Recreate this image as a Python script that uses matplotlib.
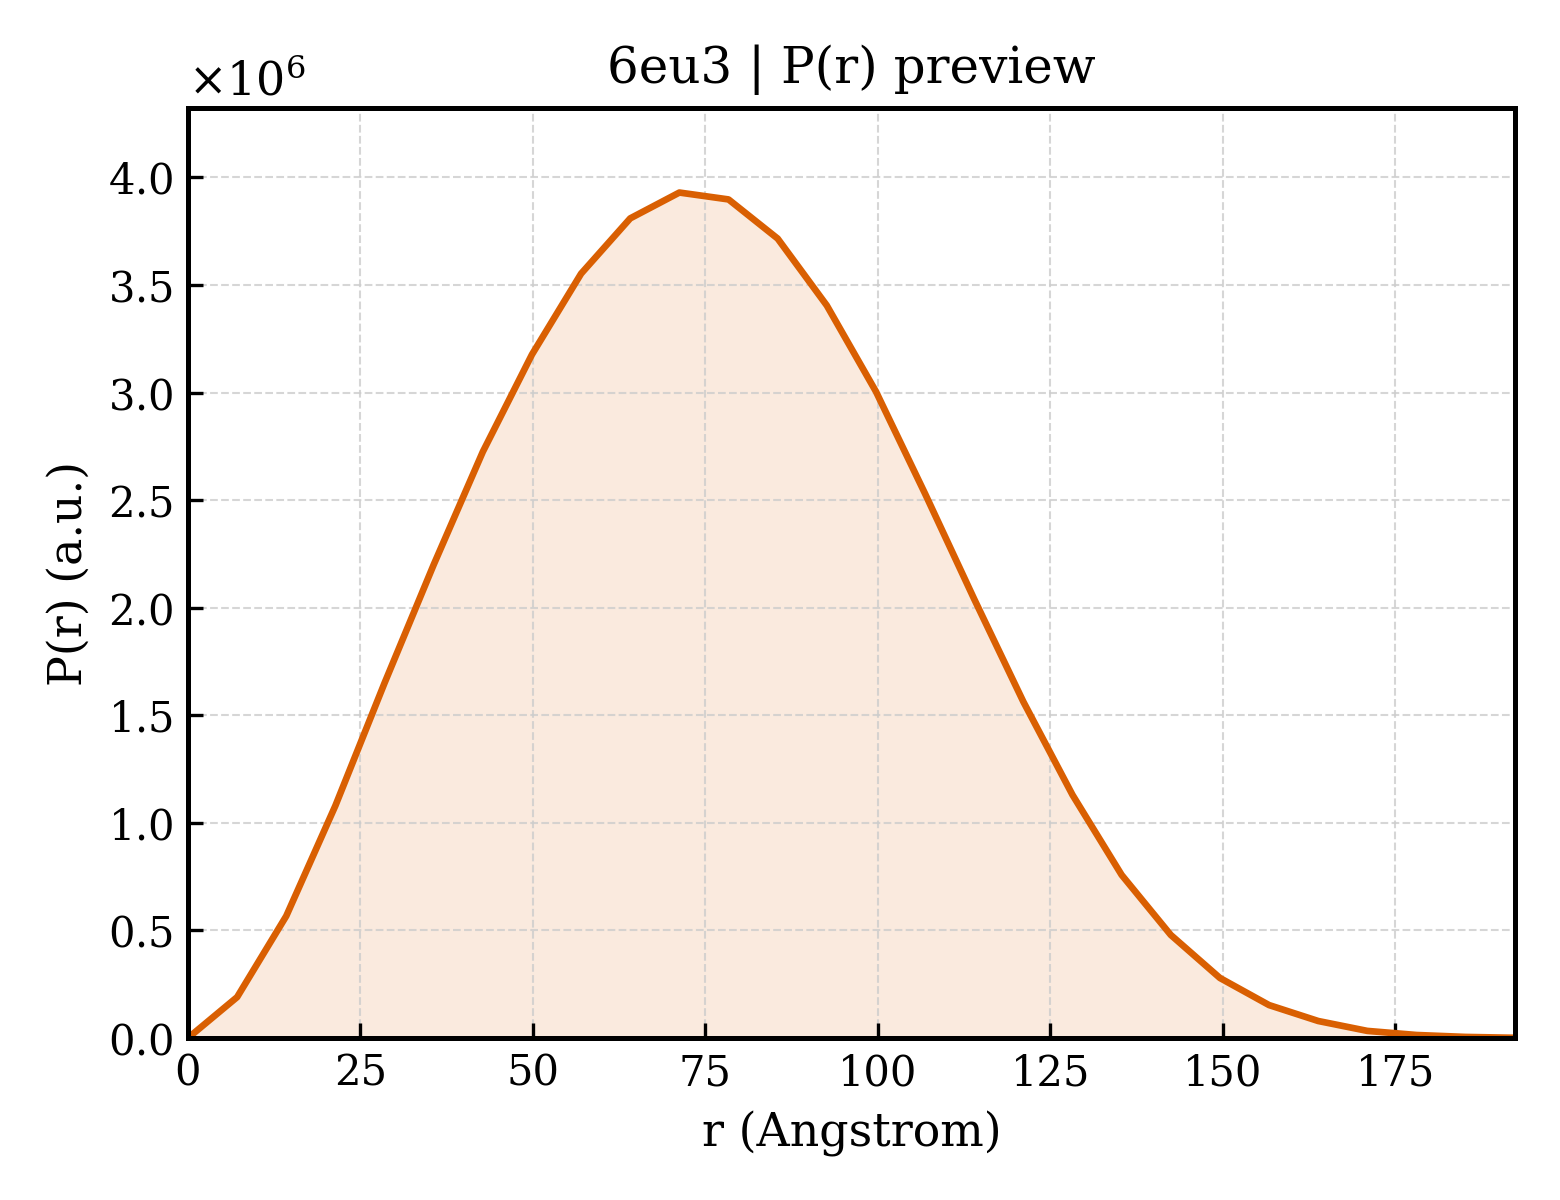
import numpy as np
import matplotlib
matplotlib.use("Agg")
import matplotlib.pyplot as plt

r_max = 192.3
n_points = 28
r = np.linspace(0, r_max, n_points)
pr = np.array([0.0, 0.19, 0.567, 1.08, 1.65, 2.2, 2.725, 3.177, 3.553, 3.81,
               3.93, 3.898, 3.716, 3.405, 3.005, 2.53, 2.04, 1.563, 1.13, 0.758,
               0.479, 0.279, 0.153, 0.079, 0.033, 0.014, 0.005, 0.001]) * 1e6

title = "6eu3 | P(r) preview"
xlabel = "r (Angstrom)"
ylabel = "P(r) (a.u.)"
color = "#D95F02"

plt.rcParams['font.family'] = 'DejaVu Serif'
plt.rcParams['mathtext.fontset'] = 'dejavuserif'
fig = plt.figure(figsize=(5.2, 4.0), dpi=300)
ax = fig.add_axes([0.1205, 0.135, 0.8505, 0.775])
ax.plot(r, pr, color=color, lw=1.6)
ax.fill_between(r, pr, 0, color=color, alpha=0.13, lw=0)
ax.set_xlim(0, r_max)
ax.set_ylim(0, pr.max() * 1.1)
ax.set_title(title, fontsize=12)
ax.set_xlabel(xlabel, fontsize=11)
ax.set_ylabel(ylabel, fontsize=11)
ax.tick_params(direction='in', labelsize=10)
ax.grid(True, ls='--', lw=0.5, color='#cccccc', alpha=0.8)
ax.ticklabel_format(axis='y', style='sci', scilimits=(0, 0), useMathText=True)
ax.yaxis.get_offset_text().set_fontsize(11)
for s in ax.spines.values():
    s.set_linewidth(1.2)
fig.savefig("out.png", dpi=300)
